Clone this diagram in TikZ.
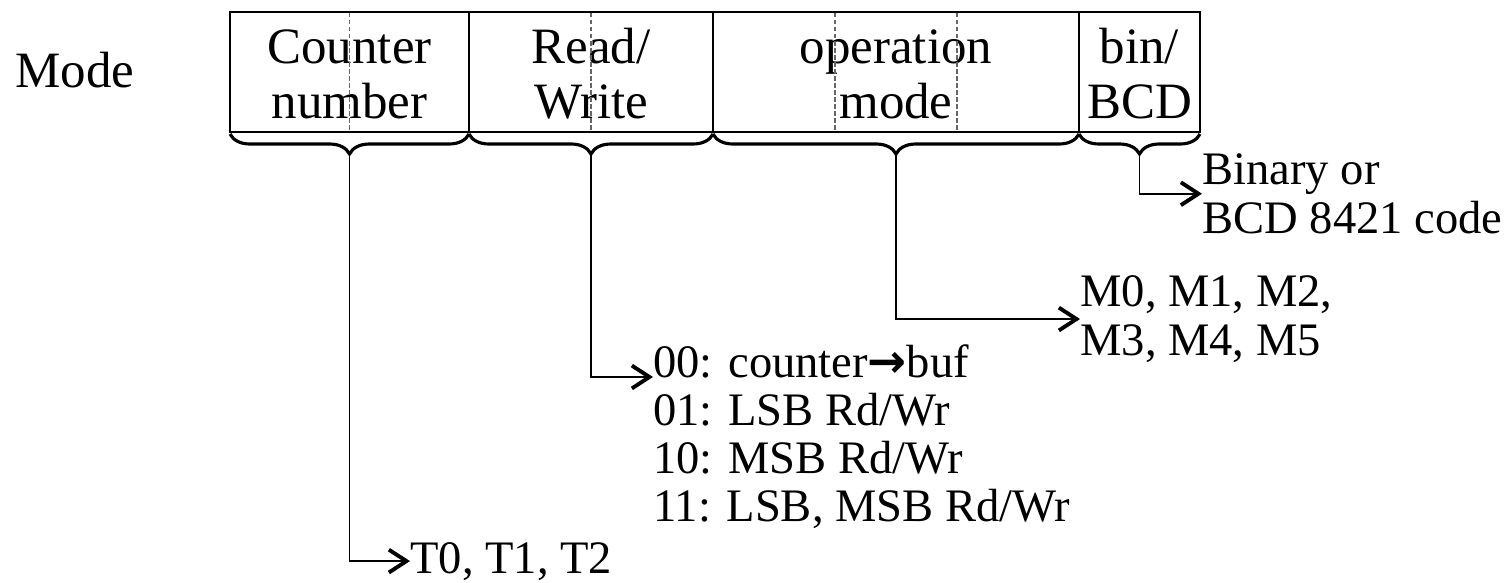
\documentclass[tikz,border=0pt]{standalone}
\usepackage{fontspec}
\setmainfont{Liberation Serif}
\newfontfamily\symfont{DejaVu Sans}
\usetikzlibrary{arrows.meta,decorations.pathreplacing}
\tikzstyle{field} = [draw,line width=1.2pt]
\tikzstyle{bitsep} = [draw,black!60,line width=0.6pt,dash pattern=on 2.5pt off 1.5pt]
\tikzstyle{brc} = [draw,line width=1.8pt,decorate,decoration={brace,mirror,amplitude=0.4cm}]
\tikzstyle{arr} = [draw,line width=1.1pt,-{Straight Barb[length=10pt,width=13pt,line width=2.2pt]}]
\tikzstyle{lbl} = [inner sep=0pt,align=center,font=\fontsize{29}{31.3}\selectfont]
\tikzstyle{note} = [inner sep=0pt,align=left,font=\fontsize{26.5}{27.4}\selectfont]

\begin{document}
\begin{tikzpicture}[x=0.02cm,y=-0.02cm]
    \useasboundingbox (0,0) rectangle (1512,582);
    \node[lbl,anchor=base west] (mode) at (15,87) {Mode};

    % the four fields of the control word
    \foreach \name/\xa/\xb/\txt in {cnt/230/469/{Counter\\number},
    rw/469/713/{Read/\\Write},op/713/1079/{operation\\mode},bin/1079/1200/{bin/\\BCD}}
    {
        \draw[field] (\xa,12) rectangle (\xb,132);
        \node[lbl,anchor=base] (\name) at ({(\xa+\xb)/2},118) {\txt};
        \draw[brc] (\xa,134) -- (\xb,134);
        \coordinate (tip\name) at ({(\xa+\xb)/2},155);
    }
    \foreach \x in {349.5,591,835,957}
        \draw[bitsep] (\x,13) -- (\x,131);

    \node[note,anchor=base west] (tnum) at (410,573) {T0, T1, T2};
    \foreach \code/\txt [count=\i from 0] in {00/{counter{\symfont\bfseries →}buf},
    01/{LSB Rd/Wr},10/{MSB Rd/Wr},11/{LSB, MSB Rd/Wr}}
        \node[note,anchor=base west] (rw\code) at (653,{377+48*\i}) {\code: \txt};
    \node[note,anchor=base west] (mcode) at (1080,355) {M0, M1, M2,\\M3, M4, M5};
    \node[note,anchor=base west] (bincode) at (1202,233) {Binary or\\BCD 8421 code};

    \path[arr] (tipcnt) |- (tnum.west);
    \path[arr] (tiprw) |- (rw00.base west);
    \path[arr] (tipop) |- (mcode.west);
    \path[arr] (tipbin) |- (bincode.west);
\end{tikzpicture}
\end{document}
